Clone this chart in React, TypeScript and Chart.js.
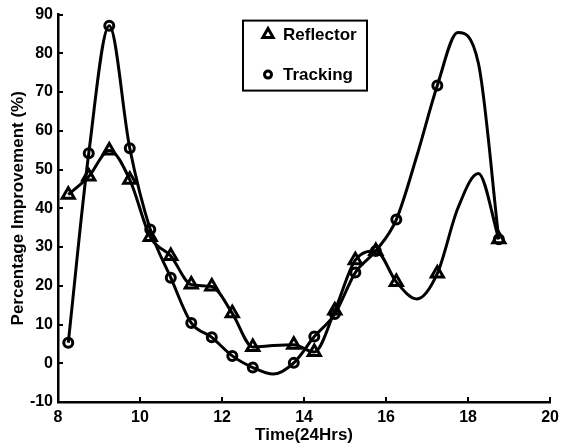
import React, { useEffect, useRef } from 'react';
import { Chart, registerables } from 'chart.js';

Chart.register(...registerables);

// Time of day (hours); every reading, including unmarked ones that shape the curve
const hours = [8.25, 8.75, 9.25, 9.75, 10.25, 10.75, 11.25, 11.75, 12.25, 12.75, 13.25, 13.75, 14.25, 14.75, 15.25, 15.75, 16.25, 16.75, 17.25, 17.75, 18.25, 18.75];
const reflector = [43.5, 48.2, 54.9, 47.4, 32.6, 27.7, 20.3, 19.8, 12.9, 4.2, 4.6, 4.8, 2.9, 13.6, 26.6, 29.0, 21.0, 16.6, 23.2, 40.0, 49.0, 32.0];
const tracking = [5.3, 54.2, 87.1, 55.5, 34.5, 22.1, 10.4, 6.7, 1.9, -1.1, -2.8, 0.1, 6.9, 12.7, 23.4, 29.0, 37.1, 53.5, 71.7, 85.4, 77.5, 32.0];
// 1 = marker drawn at that reading
const marked = [1, 1, 1, 1, 1, 1, 1, 1, 1, 1, 0, 1, 1, 1, 1, 1, 1, 0, 1, 0, 0, 1];
const seriesNames = ['Reflector', 'Tracking'];
const xTickValues = [8, 10, 12, 14, 16, 18, 20];
const yTickValues = [-10, 0, 10, 20, 30, 40, 50, 60, 70, 80, 90];
const xTitle = 'Time(24Hrs)';
const yTitle = 'Percentage Improvement (%)';

const FONT = '"Liberation Sans", Arial, sans-serif';

const inwardTicks = {
  id: 'inwardTicks',
  afterDraw(chart: any) {
    const { ctx, chartArea, scales } = chart;
    const xs = scales.x;
    const ys = scales.y;
    ctx.save();
    ctx.strokeStyle = '#000';
    ctx.lineWidth = 2;
    xs.ticks.forEach((t: any) => {
      const px = Math.round(xs.getPixelForValue(t.value));
      ctx.beginPath();
      ctx.moveTo(px, chartArea.bottom);
      ctx.lineTo(px, chartArea.bottom - 5);
      ctx.stroke();
    });
    ys.ticks.forEach((t: any) => {
      const py = Math.round(ys.getPixelForValue(t.value));
      ctx.beginPath();
      ctx.moveTo(chartArea.left, py);
      ctx.lineTo(chartArea.left + 5, py);
      ctx.stroke();
    });
    ctx.restore();
  },
};

const boxLegend = {
  id: 'boxLegend',
  afterDraw(chart: any) {
    const { ctx, chartArea } = chart;
    const left = chartArea.left + 185;
    const top = chartArea.top + 6;
    const w = 124;
    const h = 70;
    ctx.save();
    ctx.fillStyle = '#fff';
    ctx.fillRect(left, top, w, h);
    ctx.strokeStyle = '#000';
    ctx.lineWidth = 2;
    ctx.strokeRect(left, top, w, h);
    ctx.font = 'bold 17px ' + FONT;
    ctx.fillStyle = '#000';
    ctx.textBaseline = 'middle';
    ctx.textAlign = 'left';
    chart.data.datasets.forEach((ds: any, i: number) => {
      const cy = top + 14 + i * 40;
      const cx = left + 25;
      ctx.beginPath();
      if (ds.pointStyle === 'triangle') {
        const r = 6;
        ctx.moveTo(cx, cy - r);
        ctx.lineTo(cx + r * 0.866, cy + r * 0.5);
        ctx.lineTo(cx - r * 0.866, cy + r * 0.5);
        ctx.closePath();
      } else {
        ctx.arc(cx, cy, 3.5, 0, Math.PI * 2);
      }
      ctx.lineWidth = 3;
      ctx.stroke();
      ctx.fillText(ds.label, left + 40, cy + 1);
    });
    ctx.restore();
  },
};

export default function App() {
  const ref = useRef<HTMLCanvasElement>(null);
  useEffect(() => {
    if (!ref.current) return;
    const radii = (r: number) => marked.map((m) => (m ? r : 0));
    const chart = new Chart(ref.current, {
      type: 'line',
      data: {
        datasets: [
          {
            label: seriesNames[0],
            data: hours.map((h, i) => ({ x: h, y: reflector[i] })),
            borderColor: '#000',
            borderWidth: 3,
            pointStyle: 'triangle',
            pointRadius: radii(7),
            pointBorderWidth: 3,
            pointBorderColor: '#000',
            pointBackgroundColor: 'rgba(255,255,255,0)',
            cubicInterpolationMode: 'monotone',
            fill: false,
          },
          {
            label: seriesNames[1],
            data: hours.map((h, i) => ({ x: h, y: tracking[i] })),
            borderColor: '#000',
            borderWidth: 3,
            pointStyle: 'circle',
            pointRadius: radii(4.5),
            pointBorderWidth: 3,
            pointBorderColor: '#000',
            pointBackgroundColor: 'rgba(255,255,255,0)',
            cubicInterpolationMode: 'monotone',
            fill: false,
          },
        ],
      },
      options: {
        animation: false,
        responsive: false,
        events: [],
        layout: { padding: { top: 12, right: 13, left: 0, bottom: 0 } },
        plugins: { legend: { display: false }, tooltip: { enabled: false } },
        scales: {
          x: {
            type: 'linear',
            min: 8,
            max: 20,
            afterFit: (s: any) => { s.height = 44; },
            afterBuildTicks: (s: any) => { s.ticks = xTickValues.map((v) => ({ value: v })); },
            grid: { display: true, drawOnChartArea: false, drawTicks: false, color: 'rgba(0,0,0,0)' },
            border: { display: true, color: '#000', width: 2.5 },
            ticks: { color: '#000', padding: 6, maxRotation: 0, font: { family: FONT, size: 16, weight: 'bold' } },
            title: { display: true, text: xTitle, color: '#000', padding: { top: 0, bottom: 0 }, font: { family: FONT, size: 17, weight: 'bold' } },
          },
          y: {
            type: 'linear',
            min: -10,
            max: 90,
            afterFit: (s: any) => { s.width = 58; },
            afterBuildTicks: (s: any) => { s.ticks = yTickValues.map((v) => ({ value: v })); },
            grid: { display: true, drawOnChartArea: false, drawTicks: false, color: 'rgba(0,0,0,0)' },
            border: { display: true, color: '#000', width: 2.5 },
            ticks: { color: '#000', padding: 5, font: { family: FONT, size: 16, weight: 'bold' } },
            title: { display: true, text: yTitle, color: '#000', padding: { top: 8, bottom: 0 }, font: { family: FONT, size: 17, weight: 'bold' } },
          },
        },
      },
      plugins: [inwardTicks, boxLegend],
    } as any);
    return () => chart.destroy();
  }, []);
  return (
    <div style={{ position: 'fixed', left: 0, top: 0, width: 565, height: 446, background: '#fff' }}>
      <canvas ref={ref} width={565} height={446} />
    </div>
  );
}
